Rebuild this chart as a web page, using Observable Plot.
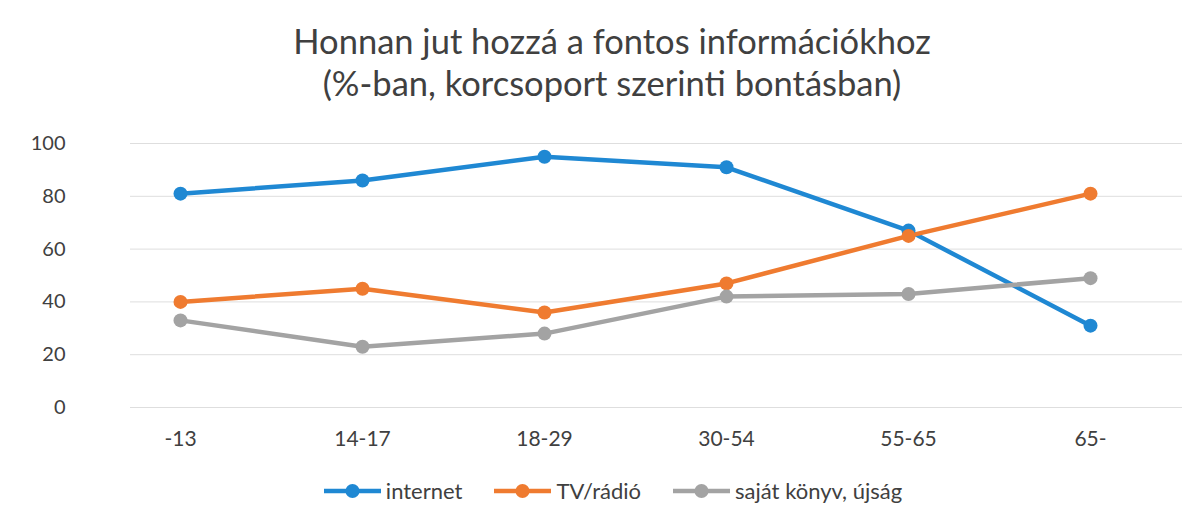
<!DOCTYPE html>
<html>
<head>
<meta charset="utf-8">
<script src="https://cdn.jsdelivr.net/npm/d3@7"></script>
<script src="https://cdn.jsdelivr.net/npm/@observablehq/plot@0.6"></script>
<style>
  html, body { margin: 0; padding: 0; background: #fff; }
  body { width: 1202px; height: 524px; overflow: hidden; font-family: Lato, "Open Sans", sans-serif; color: #404040; }
  #title { position: absolute; left: 0; top: 20px; width: 1224px; text-align: center; font-size: 34.5px; line-height: 42px; color: #404040; }
  #chart { position: absolute; left: 0; top: 120px; }
  #legend { position: absolute; left: 0; top: 477px; width: 1202px; display: flex; justify-content: center; font-size: 22px; color: #404040; padding-left: 24px; box-sizing: border-box; }
  .item { display: flex; align-items: center; margin: 0 16px; }
  .item svg { margin-right: 5px; }
</style>
</head>
<body>
<div id="title">Honnan jut hozzá a fontos információkhoz<br>(%-ban, korcsoport szerinti bontásban)</div>
<div id="chart"></div>
<div id="legend"></div>
<script>
const categories = ["-13", "14-17", "18-29", "30-54", "55-65", "65-"];
const seriesNames = ["internet", "TV/rádió", "saját könyv, újság"];
const internet = [81, 86, 95, 91, 67, 31];
const tvRadio = [40, 45, 36, 47, 65, 81];
const sajat = [33, 23, 28, 42, 43, 49];
const yTicks = [0, 20, 40, 60, 80, 100];
const colors = ["#1f88d3", "#ef7b30", "#a3a3a3"];

const data = [];
[internet, tvRadio, sajat].forEach((vals, si) => {
  vals.forEach((v, i) => data.push({series: seriesNames[si], cat: categories[i], value: v}));
});

const chart = Plot.plot({
  width: 1202,
  height: 345,
  marginLeft: 90,
  marginRight: 20,
  marginTop: 23,
  marginBottom: 58,
  style: {fontFamily: "Lato, 'Open Sans', sans-serif", fontSize: "20px", color: "#404040", background: "transparent"},
  x: {type: "point", domain: categories, range: [178, 1091], padding: 0, label: null},
  y: {domain: [0, 100], label: null},
  color: {domain: seriesNames, range: colors},
  marks: [
    Plot.ruleY(yTicks, {stroke: "#dedede", strokeWidth: 1, insetLeft: 40}),
    Plot.axisY({ticks: yTicks, tickSize: 0, tickPadding: 25, label: null, fontSize: 20}),
    Plot.axisX({tickSize: 0, tickPadding: 24, label: null, fontSize: 21}),
    Plot.line(data, {x: "cat", y: "value", z: "series", stroke: "series", strokeWidth: 4.5, curve: "linear"}),
    Plot.dot(data, {x: "cat", y: "value", fill: "series", r: 7, stroke: null})
  ]
});
document.getElementById("chart").appendChild(chart);

const legend = document.getElementById("legend");
seriesNames.forEach((name, i) => {
  const item = document.createElement("div");
  item.className = "item";
  item.innerHTML = `<svg width="57" height="16"><line x1="0" y1="8" x2="57" y2="8" stroke="${colors[i]}" stroke-width="4.5"/><circle cx="28.5" cy="8" r="7" fill="${colors[i]}"/></svg><span>${name}</span>`;
  legend.appendChild(item);
});
</script>
</body>
</html>
